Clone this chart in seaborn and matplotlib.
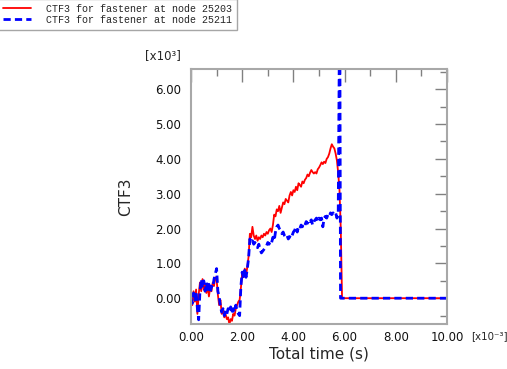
import matplotlib
matplotlib.use("Agg")
import matplotlib.pyplot as plt
import seaborn as sns
from matplotlib.ticker import MultipleLocator

# time in units of 1e-3 s, CTF3 in units of 1e3
time_red = [0.00, 0.05, 0.10, 0.15, 0.20, 0.25, 0.30, 0.35, 0.40, 0.45,
            0.50, 0.55, 0.60, 0.65, 0.70, 0.75, 0.80, 0.85, 0.90, 0.95,
            1.00, 1.05, 1.10, 1.15, 1.20, 1.25, 1.30, 1.35, 1.40, 1.45,
            1.50, 1.55, 1.60, 1.65, 1.70, 1.75, 1.80, 1.85, 1.90, 1.95,
            2.00, 2.05, 2.10, 2.15, 2.20, 2.25, 2.30, 2.35, 2.40, 2.45,
            2.50, 2.55, 2.60, 2.65, 2.70, 2.75, 2.80, 2.85, 2.90, 2.95,
            3.00, 3.05, 3.10, 3.15, 3.20, 3.25, 3.30, 3.35, 3.40, 3.45,
            3.50, 3.55, 3.60, 3.65, 3.70, 3.75, 3.80, 3.85, 3.90, 3.95,
            4.00, 4.05, 4.10, 4.15, 4.20, 4.25, 4.30, 4.35, 4.40, 4.45,
            4.50, 4.55, 4.60, 4.65, 4.70, 4.75, 4.80, 4.85, 4.90, 4.95,
            5.00, 5.05, 5.10, 5.15, 5.20, 5.25, 5.30, 5.35, 5.40, 5.45,
            5.50, 5.55, 5.60, 5.65, 5.70, 5.75, 5.80, 5.85, 5.90, 10.00]
ctf3_25203 = [0.00, -0.20, 0.20, -0.10, 0.25, -0.45, 0.10, 0.45, 0.20, 0.55,
              0.25, 0.40, 0.15, 0.35, 0.05, 0.30, 0.20, 0.45, 0.35, 0.60,
              0.55, 0.10, -0.20, -0.05, -0.45, -0.30, -0.55, -0.45, -0.60, -0.55,
              -0.75, -0.60, -0.65, -0.45, -0.50, -0.30, -0.20, -0.10, -0.05, 0.30,
              0.70, 0.60, 0.85, 0.65, 0.90, 1.20, 1.85, 1.75, 2.05, 1.80,
              1.70, 1.80, 1.65, 1.75, 1.70, 1.80, 1.75, 1.85, 1.80, 1.90,
              1.85, 1.95, 2.00, 1.90, 2.10, 2.40, 2.35, 2.55, 2.50, 2.65,
              2.45, 2.60, 2.75, 2.70, 2.85, 2.80, 2.75, 2.95, 3.05, 2.95,
              3.10, 3.05, 3.20, 3.10, 3.30, 3.25, 3.20, 3.35, 3.30, 3.40,
              3.45, 3.55, 3.50, 3.60, 3.68, 3.62, 3.58, 3.62, 3.58, 3.70,
              3.75, 3.82, 3.90, 3.85, 3.92, 3.88, 4.00, 4.05, 4.15, 4.30,
              4.42, 4.35, 4.30, 4.15, 3.95, 3.60, 3.10, 2.00, 0.00, 0.00]

time_blue = time_red[:116] + [5.81, 5.84, 10.00]
ctf3_25211 = [0.00, -0.15, 0.15, -0.05, 0.20, -0.30, -0.62, 0.20, 0.55, 0.30,
              0.50, 0.20, 0.45, 0.25, 0.40, 0.15, 0.35, 0.30, 0.55, 0.70,
              0.85, 0.20, 0.05, -0.25, -0.40, -0.30, -0.50, -0.35, -0.45, -0.30,
              -0.40, -0.25, -0.45, -0.30, -0.40, -0.20, -0.35, -0.45, -0.50, 0.35,
              0.75, 0.55, 0.80, 0.60, 0.85, 1.15, 1.70, 1.60, 1.65, 1.55,
              1.60, 1.50, 1.45, 1.55, 1.40, 1.30, 1.35, 1.40, 1.45, 1.50,
              1.60, 1.55, 1.65, 1.60, 1.75, 1.65, 1.90, 2.05, 2.10, 2.00,
              1.95, 1.85, 1.90, 1.80, 1.75, 1.80, 1.70, 1.75, 1.85, 1.80,
              1.90, 1.95, 2.05, 1.90, 2.05, 2.00, 2.10, 2.05, 2.15, 2.10,
              2.20, 2.15, 2.25, 2.20, 2.25, 2.10, 2.20, 2.25, 2.30, 2.20,
              2.30, 2.25, 2.30, 2.05, 2.30, 2.35, 2.30, 2.40, 2.35, 2.45,
              2.40, 2.45, 2.40, 2.45, 2.30, 2.40, 9.00, 0.00, 0.00]

legend_labels = ["CTF3 for fastener at node 25203", "CTF3 for fastener at node 25211"]

sns.set_style("white")
plt.rcParams["font.family"] = ["DejaVu Sans"]

fig = plt.figure(figsize=(5.07, 3.69), dpi=100)
ax = fig.add_axes([0.3767, 0.122, 0.505, 0.691])

sns.lineplot(x=time_red, y=ctf3_25203, ax=ax, color="#ff0000", linewidth=1.3,
             sort=False, estimator=None, label=legend_labels[0])
sns.lineplot(x=time_blue, y=ctf3_25211, ax=ax, color="#0000ff", linewidth=2.0,
             sort=False, estimator=None, label=legend_labels[1])
ax.lines[1].set_dashes([2.6, 1.5])

ax.set_xlim(0, 10)
ax.set_ylim(-0.74, 6.58)
ax.xaxis.set_major_locator(MultipleLocator(2))
ax.xaxis.set_minor_locator(MultipleLocator(1))
ax.yaxis.set_major_locator(MultipleLocator(1))
ax.yaxis.set_minor_locator(MultipleLocator(0.5))
ax.xaxis.set_major_formatter(lambda v, p: "%.2f" % v)
ax.yaxis.set_major_formatter(lambda v, p: "%.2f" % v)

for s in ax.spines.values():
    s.set_color("#a8a8a8")
    s.set_linewidth(1.5)
ax.tick_params(which="both", direction="in", top=True, right=True,
               color="#808080", width=1, labelsize=8.5, labelcolor="#111111")
ax.tick_params(which="major", length=9)
ax.tick_params(which="minor", length=5)
ax.tick_params(axis="y", pad=7)
ax.tick_params(axis="x", pad=5)

ax.set_xlabel("Total time (s)", fontsize=11, labelpad=2)
ax.set_ylabel("CTF3", fontsize=11, labelpad=16)

fig.text(0.286, 0.832, "[x10\u00b3]", fontsize=8.5, ha="left", va="bottom")
fig.text(0.929, 0.076, "[x10\u207b\u00b3]", fontsize=7.4, ha="left", va="bottom")

handles, labels = ax.get_legend_handles_labels()
ax.get_legend().remove()
leg = fig.legend(handles, labels, loc="upper left", bbox_to_anchor=(-0.003, 1.003),
                 prop={"family": "Liberation Mono", "size": 7.2},
                 frameon=True, fancybox=False, borderaxespad=0,
                 handlelength=2.8, handletextpad=1.5, labelspacing=0.1,
                 borderpad=0.5)
leg.get_frame().set_edgecolor("#909090")
leg.get_frame().set_linewidth(1.0)

fig.savefig("out.png", dpi=100)
